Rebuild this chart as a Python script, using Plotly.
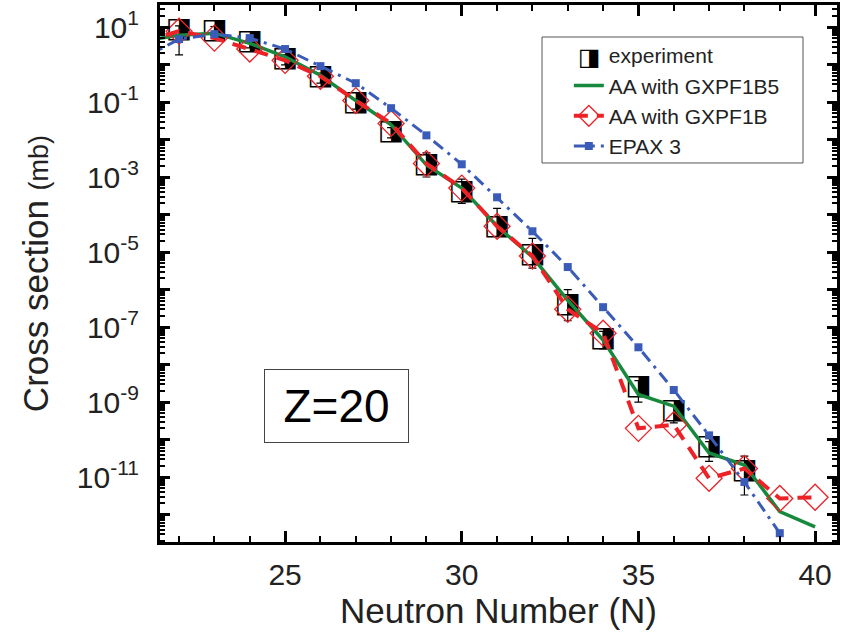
import plotly.graph_objects as go

# ---------------- data ----------------
N_exp = [22, 23, 24, 25, 26, 27, 28, 29, 30, 31, 32, 33, 34, 35, 36, 37, 38]
exp_cs = [8.3, 8.0, 4.0, 1.4, 0.46, 0.093, 0.016, 2.1e-3, 4.0e-4, 4.6e-5, 8.3e-6,
          4.0e-7, 4.8e-8, 2.5e-9, 5.8e-10, 6.3e-11, 1.45e-11]
exp_err_up_frac = [0.3, 0.3, 0.3, 0.3, 0.3, 0.3, 0.3, 1.1, 1.2, 2.2, 1.8, 1.5, 0.6, 0.5, 0.4, 0.4, 1.5]
exp_err_dn_frac = [0.78, 0.25, 0.3, 0.3, 0.3, 0.3, 0.3, 0.52, 0.5, 0.43, 0.55, 0.63, 0.45, 0.6, 0.52, 0.58, 0.77]

N_b5 = [21, 22, 23, 24, 25, 26, 27, 28, 29, 30, 31, 32, 33, 34, 35, 36, 37, 38, 39, 40]
gxpf1b5 = [4.3, 6.1, 6.9, 3.7, 1.6, 0.52, 0.11, 0.025, 2.1e-3, 5.1e-4, 4.9e-5, 7.4e-6,
           5.2e-7, 4.5e-8, 1.6e-9, 7.8e-10, 4.4e-11, 2.1e-11, 1.2e-12, 4.7e-13]

N_b = [21, 22, 23, 24, 25, 26, 27, 28, 29, 30, 31, 32, 33, 34, 35, 36, 37, 38, 39, 40]
gxpf1b = [4.0, 7.8, 5.1, 2.6, 1.3, 0.49, 0.11, 0.027, 2.3e-3, 5.1e-4, 4.9e-5, 7.9e-6,
          3.0e-7, 6.9e-8, 2.0e-10, 2.5e-10, 9.3e-12, 1.7e-11, 2.7e-12, 2.9e-12]

N_epax = [21, 22, 23, 24, 25, 26, 27, 28, 29, 30, 31, 32, 33, 34, 35, 36, 37, 38, 39]
epax3 = [1.5, 4.8, 6.5, 5.1, 2.6, 0.91, 0.32, 0.069, 0.013, 2.2e-3, 2.9e-4, 3.6e-5,
         4.0e-6, 3.4e-7, 2.9e-8, 2.1e-9, 1.3e-10, 7.4e-12, 3.2e-13]

y_label_exps = [1, -1, -3, -5, -7, -9, -11]
x_major = [25, 30, 35, 40]

FONT = "Liberation Sans, Arial, sans-serif"
GREEN = "#16893c"
RED = "#ec2227"
BLUE = "#3b5bb8"

fig = go.Figure()

# experiment: error bars (legend entry with invisible marker)
fig.add_trace(go.Scatter(
    x=N_exp, y=exp_cs, mode="markers", name="experiment",
    marker=dict(size=18, color="rgba(0,0,0,0)", line=dict(width=0)),
    error_y=dict(type="data", symmetric=False,
                 array=[v * f for v, f in zip(exp_cs, exp_err_up_frac)],
                 arrayminus=[v * f for v, f in zip(exp_cs, exp_err_dn_frac)],
                 color="black", thickness=1.2, width=4),
    showlegend=True,
))
# experiment: half-filled square glyphs
fig.add_trace(go.Scatter(
    x=N_exp, y=exp_cs, mode="text", text=["◨"] * len(N_exp),
    textposition="middle center",
    textfont=dict(family="DejaVu Sans", size=28, color="black"),
    showlegend=False, hoverinfo="skip",
))

fig.add_trace(go.Scatter(
    x=N_b5, y=gxpf1b5, mode="lines", name="AA with GXPF1B5",
    line=dict(color=GREEN, width=3.5),
))
fig.add_trace(go.Scatter(
    x=N_b, y=gxpf1b, mode="lines+markers", name="AA with GXPF1B",
    line=dict(color=RED, width=4, dash="14px,9px"),
    marker=dict(symbol="diamond-open", size=20, color=RED, line=dict(width=1.3, color=RED)),
))
fig.add_trace(go.Scatter(
    x=N_epax, y=epax3, mode="lines+markers", name="EPAX 3",
    line=dict(color=BLUE, width=3, dash="12px,6px,3px,6px"),
    marker=dict(symbol="square", size=8, color=BLUE),
))

minor_y = [m * 10 ** e for e in range(-13, 2) for m in range(2, 10)]

fig.update_xaxes(
    range=[21.46, 40.62], tickvals=x_major, ticktext=[str(v) for v in x_major],
    ticks="inside", ticklen=11, tickwidth=2.5, tickcolor="black",
    minor=dict(dtick=1, tick0=21, ticks="inside", ticklen=6, tickwidth=2, tickcolor="black"),
    showline=True, linecolor="black", linewidth=3, mirror="ticks",
    showgrid=False, zeroline=False, automargin=False,
    ticklabelstandoff=4,
    tickfont=dict(family=FONT, size=30, color="#222"),
    title=dict(text="Neutron Number (N)", font=dict(family=FONT, size=35, color="#222"), standoff=0),
)
fig.update_yaxes(
    type="log", range=[-12.73, 1.59],
    tickvals=[10 ** e for e in range(-12, 2)],
    ticktext=[("10<sup>%d</sup>" % e) if e in y_label_exps else "" for e in range(-12, 2)],
    ticks="inside", ticklen=10, tickwidth=2.5, tickcolor="black",
    minor=dict(tickvals=minor_y, ticks="inside", ticklen=5, tickwidth=1.5, tickcolor="black"),
    showline=True, linecolor="black", linewidth=3, mirror="ticks",
    showgrid=False, zeroline=False, automargin=False,
    ticklabelstandoff=12,
    tickfont=dict(family=FONT, size=30, color="#222"),
    title=dict(text='Cross section <span style="font-size:27px">(mb)</span>',
               font=dict(family=FONT, size=35, color="#222"), standoff=18),
)

fig.update_layout(
    width=844, height=641,
    margin=dict(l=160, r=7, t=5, b=99),
    paper_bgcolor="white", plot_bgcolor="white",
    showlegend=True,
    legend=dict(x=0.5655, y=0.944, xanchor="left", yanchor="top",
                bgcolor="rgba(0,0,0,0)", borderwidth=0,
                font=dict(family=FONT, size=21, color="#222"),
                tracegroupgap=0, itemwidth=30, indentation=26),
    shapes=[
        dict(type="rect", xref="paper", yref="paper",
             x0=0.5643, x1=0.9498, y0=0.7058, y1=0.9404,
             line=dict(color="#555", width=1), fillcolor="white", layer="below"),
    ],
    annotations=[
        dict(text="Z=20", x=0.26, y=0.253, xref="paper", yref="paper",
             xanchor="center", yanchor="middle", width=127, height=56,
             showarrow=False, font=dict(family=FONT, size=46, color="black"),
             bordercolor="#444", borderwidth=1, borderpad=8, bgcolor="white"),
        dict(text="◨", x=0.634, y=0.903, xref="paper", yref="paper",
             xanchor="center", yanchor="middle",
             showarrow=False, font=dict(family="DejaVu Sans", size=24, color="black")),
    ],
)

fig.write_html("out.html", config={"displayModeBar": False},
               post_script="document.body.style.margin='0px';")
